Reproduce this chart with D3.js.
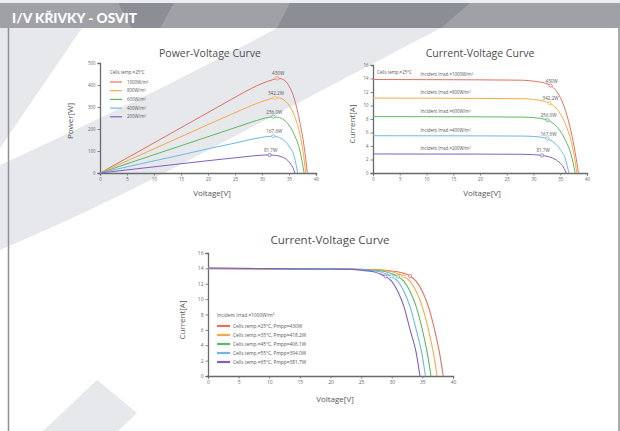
<!DOCTYPE html>
<html>
<head>
<meta charset="utf-8">
<script src="https://cdn.jsdelivr.net/npm/d3@7/dist/d3.min.js"></script>
<style>
  body { margin: 0; background: #fff; }
  text { font-family: "Open Sans", "Lato", sans-serif; }
</style>
</head>
<body>
<div id="page"></div>
<script>
// ---- data ----
const voltTicks = [0, 5, 10, 15, 20, 25, 30, 35, 40];
const powerTicks = [0, 100, 200, 300, 400, 500];
const currentTicks = [0, 2, 4, 6, 8, 10, 12, 14, 16];

const irradLabels = ["1000W/m²", "800W/m²", "600W/m²", "400W/m²", "200W/m²"];
const irradTexts = ["Incident Irrad.=1000W/m²", "Incident Irrad.=800W/m²", "Incident Irrad.=600W/m²",
  "Incident Irrad.=400W/m²", "Incident Irrad.=200W/m²"];
const pmppIrrad = ["430W", "342.2W", "256.0W", "167.6W", "81.7W"];
const tempTexts = ["Cells temp.=25°C, Pmpp=430W", "Cells temp.=35°C, Pmpp=418.2W",
  "Cells temp.=45°C, Pmpp=406.1W", "Cells temp.=55°C, Pmpp=394.0W", "Cells temp.=65°C, Pmpp=381.7W"];
const colors = ["#e6705f", "#f5aa45", "#5cba64", "#6cb8ea", "#8160c4"];

// power-voltage, [V, P]
const pv1000 = [[0,0],[5,68],[10,137],[15,206],[20,275],[25,344],[28,384],[30,407],[31,416],[32,424],[33,430],[34,424],[35,396],[36,336],[37,232],[37.8,120],[38.4,0]];
const pv800 = [[0,0],[5,55],[10,110],[15,165],[20,220],[25,274],[28,306],[30,325],[31,333],[32,340],[33,342],[34,333],[35,308],[36,260],[37,178],[37.6,98],[38.1,0]];
const pv600 = [[0,0],[5,42],[10,83],[15,124],[20,165],[25,206],[28,231],[30,246],[31,252],[32,255],[33,253],[34,243],[35,217],[36,173],[37,104],[37.8,0]];
const pv400 = [[0,0],[5,28],[10,55],[15,82],[20,110],[25,136],[28,153],[30,162],[31,166],[32,167],[33,163],[34,150],[35,122],[36,72],[36.6,0]];
const pv200 = [[0,0],[5,14],[10,28],[15,42],[20,56],[25,69],[28,77],[30,81],[31,82],[32,81],[33,78],[34,70],[35,51],[35.7,25],[36.1,0]];
const mppPV = [[32.8,430],[32.4,342],[32.1,256],[32.1,167],[31.4,82]];

// current-voltage by irradiance, [V, I]
const iv1000 = [[0,13.85],[10,13.83],[20,13.8],[28,13.75],[30,13.6],[31,13.5],[32,13.35],[33,13.05],[34,12.4],[35,11.2],[36,9.2],[37,6.2],[37.8,3.0],[38.4,0]];
const iv800 = [[0,11.1],[10,11.08],[20,11.05],[28,11.0],[30,10.9],[31,10.8],[32,10.62],[33,10.35],[34,9.8],[35,8.8],[36,7.2],[37,4.8],[37.6,2.6],[38.1,0]];
const iv600 = [[0,8.35],[10,8.34],[20,8.32],[28,8.28],[30,8.2],[31,8.12],[32,7.98],[33,7.7],[34,7.15],[35,6.2],[36,4.8],[37,2.8],[37.8,0]];
const iv400 = [[0,5.52],[10,5.51],[20,5.5],[28,5.47],[30,5.42],[31,5.35],[32,5.22],[33,4.95],[34,4.4],[35,3.5],[36,2.0],[36.6,0]];
const iv200 = [[0,2.82],[10,2.81],[20,2.8],[28,2.77],[30,2.72],[31,2.65],[32,2.55],[33,2.38],[34,2.05],[35,1.45],[35.7,0.7],[36.1,0]];
const mppIrrad = [[33.2,12.95],[33.0,10.35],[32.6,7.85],[32.6,5.1],[31.6,2.6]];

// current-voltage by cell temperature, [V, I]
const ivT25 = [[0,13.95],[10,13.93],[20,13.9],[27,13.85],[29,13.75],[31,13.55],[32,13.35],[33,13.0],[34,12.3],[35,11.0],[36,9.0],[37,6.0],[37.8,3.0],[38.4,0]];
const ivT35 = [[0,13.97],[10,13.94],[20,13.9],[26,13.86],[28,13.75],[30,13.55],[31,13.3],[32,12.95],[33,12.3],[34,11.0],[35,9.0],[36,6.0],[36.8,3.0],[37.4,0]];
const ivT45 = [[0,14.0],[10,13.95],[20,13.9],[25,13.87],[27,13.75],[29,13.55],[30,13.3],[31,12.95],[32,12.3],[33,11.0],[34,9.0],[35,6.0],[35.8,3.0],[36.4,0]];
const ivT55 = [[0,14.02],[10,13.96],[20,13.9],[24,13.88],[26,13.75],[28,13.55],[29,13.3],[30,12.95],[31,12.3],[32,11.0],[33,9.0],[34,6.0],[34.9,3.0],[35.5,0]];
const ivT65 = [[0,14.05],[10,13.97],[20,13.91],[23,13.9],[25,13.75],[27,13.55],[28,13.3],[29,12.95],[30,12.3],[31,11.0],[32,9.0],[33,6.0],[34,3.0],[34.6,0]];
const mppTemp = [[33.0,13.0],[32.0,12.95],[31.0,12.95],[30.0,12.95],[29.0,12.95]];

const W = 620, H = 431;
const svg = d3.select("#page").append("svg")
  .attr("width", W).attr("height", H)
  .attr("viewBox", `0 0 ${W} ${H}`);

// background watermark + header
function drawBackground() {
  const wm = "#e7e8ec";
  svg.append("rect").attr("width", W).attr("height", H).attr("fill", "#fff");
  svg.append("path").attr("fill", wm).attr("d", "M0,28 L82,28 L0,148 Z");
  svg.append("path").attr("fill", wm)
    .attr("d", "M277,28 L441,28 Q330,86 180,165 Q90,212 0,250 L0,165 Q150,96 277,28 Z");
  svg.append("path").attr("fill", wm).attr("d", "M43,431 L97,380 L137,413 L118,431 Z");

  svg.append("rect").attr("x", 0).attr("y", 0).attr("width", W).attr("height", 3).attr("fill", "#eceef1");
  svg.append("rect").attr("x", 0).attr("y", 3).attr("width", W).attr("height", 25).attr("fill", "#9fa1a7");
  svg.append("path").attr("fill", "#8b8e95").attr("d", "M290,3 L470,3 L441,28 L277,28 Z");
  svg.append("path").attr("fill", "#8b8e95").attr("d", "M118,3 L174,3 L160,28 L132,28 Z");
  svg.append("text")
    .attr("x", 12).attr("y", 23)
    .attr("textLength", 125).attr("lengthAdjust", "spacingAndGlyphs")
    .style("font-family", "Lato, 'Open Sans', sans-serif")
    .style("font-weight", "900").style("font-size", "14px")
    .style("fill", "#fff")
    .text("I/V KŘIVKY - OSVIT");

  svg.append("line").attr("x1", 8.5).attr("x2", 8.5).attr("y1", 28).attr("y2", H)
    .attr("stroke", "#8e9096").attr("stroke-width", 1.5);
  svg.append("line").attr("x1", 619).attr("x2", 619).attr("y1", 28).attr("y2", H)
    .attr("stroke", "#8e9096").attr("stroke-width", 1.5);
}

function drawChart(cfg) {
  const g = svg.append("g");
  const x = d3.scaleLinear().domain([0, 40]).range([cfg.left, cfg.right]);
  const y = d3.scaleLinear().domain([0, cfg.yMax]).range([cfg.bottom, cfg.top]);

  const xAxis = g.append("g")
    .attr("transform", `translate(0,${cfg.bottom})`)
    .call(d3.axisBottom(x).tickValues(voltTicks).tickSize(2.5).tickPadding(2));
  const yAxis = g.append("g")
    .attr("transform", `translate(${cfg.left},0)`)
    .call(d3.axisLeft(y).tickValues(cfg.yTicks).tickSize(2.5).tickPadding(2));
  [xAxis, yAxis].forEach(a => {
    a.select(".domain").attr("stroke", "#6a6a6a").attr("stroke-width", 1.3);
    a.selectAll(".tick line").attr("stroke", "#6a6a6a").attr("stroke-width", 0.8);
    a.selectAll(".tick text").style("font-size", cfg.tickFont + "px").style("fill", "#666");
  });

  const line = d3.line()
    .x(d => x(d[0]))
    .y(d => y(d[1]))
    .curve(d3.curveMonotoneX);

  g.selectAll("path.series")
    .data(cfg.series)
    .enter()
    .append("path")
    .attr("class", "series")
    .attr("d", line)
    .attr("fill", "none")
    .attr("stroke", (d, i) => colors[i])
    .attr("stroke-width", cfg.lineWidth);

  g.selectAll("circle.mpp")
    .data(cfg.mpp)
    .enter()
    .append("circle")
    .attr("class", "mpp")
    .attr("cx", d => x(d[0]))
    .attr("cy", d => y(d[1]))
    .attr("r", 1.6)
    .attr("fill", "#fff")
    .attr("stroke", (d, i) => colors[i])
    .attr("stroke-width", 0.8);

  if (cfg.mppLabels) {
    g.selectAll("text.mppLabel")
      .data(cfg.mpp)
      .enter()
      .append("text")
      .attr("x", d => x(d[0]) + 1)
      .attr("y", d => y(d[1]) - 3)
      .attr("text-anchor", "middle")
      .style("font-size", "4.6px")
      .style("fill", "#555")
      .text((d, i) => cfg.mppLabels[i]);
  }

  g.append("text")
    .attr("x", cfg.titleX).attr("y", cfg.titleY)
    .attr("text-anchor", "middle")
    .style("font-size", cfg.titleFont + "px")
    .style("fill", "#4d4d4d")
    .text(cfg.title);

  g.append("text")
    .attr("x", cfg.xLabelX).attr("y", cfg.xLabelY)
    .attr("text-anchor", "middle")
    .style("font-size", "8px")
    .style("fill", "#555")
    .text("Voltage[V]");

  g.append("text")
    .attr("transform", `translate(${cfg.yLabelX},${cfg.yLabelY}) rotate(-90)`)
    .attr("text-anchor", "middle")
    .style("font-size", "8px")
    .style("fill", "#555")
    .text(cfg.yLabel);

  return { g, x, y };
}

drawBackground();

// Power-Voltage
const c1 = drawChart({
  left: 100, right: 316, top: 63, bottom: 173, yMax: 500, yTicks: powerTicks,
  series: [pv1000, pv800, pv600, pv400, pv200], mpp: mppPV, mppLabels: pmppIrrad,
  title: "Power-Voltage Curve", titleX: 210, titleY: 57, titleFont: 10.5,
  xLabelX: 212, xLabelY: 196, yLabel: "Power[W]", yLabelX: 73, yLabelY: 121,
  tickFont: 4.4, lineWidth: 1
});
c1.g.append("text").attr("x", 110).attr("y", 74)
  .style("font-size", "4.4px").style("fill", "#555").text("Cells temp.=25°C");
const leg1 = c1.g.selectAll("g.leg").data(irradLabels).enter().append("g")
  .attr("transform", (d, i) => `translate(110,${82 + i * 8.7})`);
leg1.append("line").attr("x1", 0).attr("x2", 12)
  .attr("stroke", (d, i) => colors[i]).attr("stroke-width", 1.2);
leg1.append("text").attr("x", 17).attr("y", 1.6)
  .style("font-size", "4.4px").style("fill", "#555").text(d => d);

// Current-Voltage by irradiance
const c2 = drawChart({
  left: 373, right: 587, top: 65, bottom: 173, yMax: 16, yTicks: currentTicks,
  series: [iv1000, iv800, iv600, iv400, iv200], mpp: mppIrrad, mppLabels: pmppIrrad,
  title: "Current-Voltage Curve", titleX: 480, titleY: 57, titleFont: 10.5,
  xLabelX: 482, xLabelY: 196, yLabel: "Current[A]", yLabelX: 355, yLabelY: 124,
  tickFont: 4.4, lineWidth: 1
});
c2.g.append("text").attr("x", 377).attr("y", 74)
  .style("font-size", "4.4px").style("fill", "#555").text("Cells temp.=25°C");
c2.g.selectAll("text.irr")
  .data(irradTexts)
  .enter()
  .append("text")
  .attr("x", c2.x(8.9))
  .attr("y", (d, i) => c2.y([iv1000, iv800, iv600, iv400, iv200][i][0][1]) - 4)
  .style("font-size", "4.4px").style("fill", "#555")
  .text(d => d);

// Current-Voltage by cell temperature
const c3 = drawChart({
  left: 208, right: 453, top: 253, bottom: 376, yMax: 16, yTicks: currentTicks,
  series: [ivT25, ivT35, ivT45, ivT55, ivT65], mpp: mppTemp, mppLabels: null,
  title: "Current-Voltage Curve", titleX: 330, titleY: 244, titleFont: 11.5,
  xLabelX: 335, xLabelY: 402, yLabel: "Current[A]", yLabelX: 185, yLabelY: 320,
  tickFont: 5, lineWidth: 1.1
});
c3.g.append("text").attr("x", 217).attr("y", 317)
  .style("font-size", "4.8px").style("fill", "#555").text("Incident Irrad.=1000W/m²");
const leg3 = c3.g.selectAll("g.leg").data(tempTexts).enter().append("g")
  .attr("transform", (d, i) => `translate(217,${326 + i * 9})`);
leg3.append("line").attr("x1", 0).attr("x2", 13)
  .attr("stroke", (d, i) => colors[i]).attr("stroke-width", 2.2);
leg3.append("text").attr("x", 16).attr("y", 1.7)
  .style("font-size", "4.8px").style("fill", "#555").text(d => d);
</script>
</body>
</html>
